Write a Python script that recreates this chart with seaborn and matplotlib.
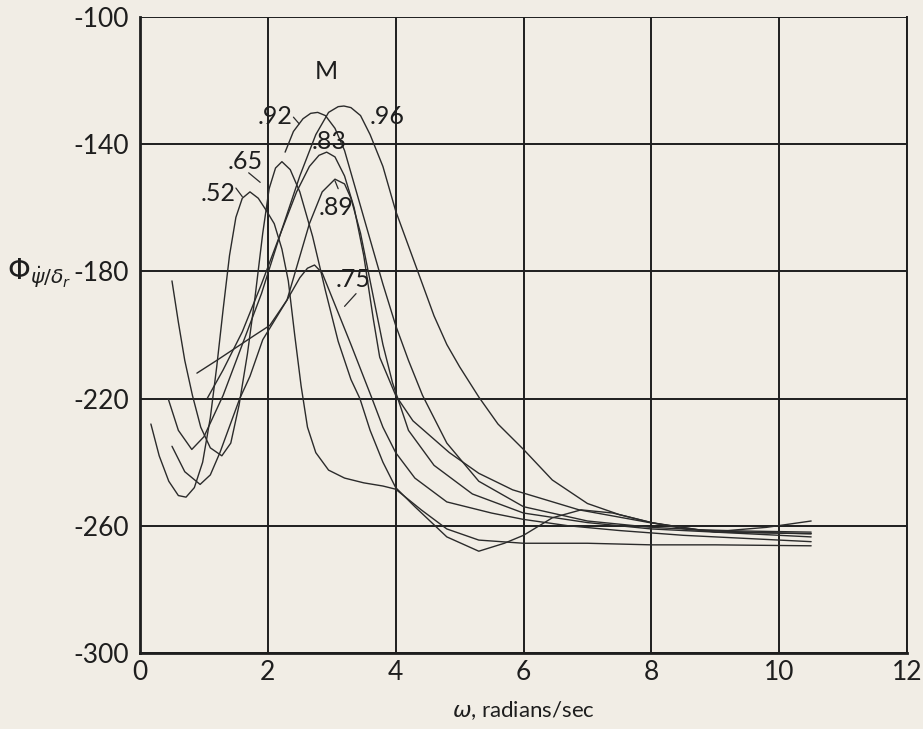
import matplotlib
matplotlib.use("Agg")
import matplotlib.pyplot as plt
import numpy as np
import pandas as pd
import seaborn as sns

# Phase angle of yaw-rate response to rudder, for several Mach numbers
mach_labels = [".52", ".65", ".75", ".83", ".89", ".92", ".96"]

omega_52 = [0.17, 0.3, 0.45, 0.6, 0.72, 0.85, 0.98, 1.1, 1.2, 1.3, 1.4, 1.5, 1.6, 1.72,
            1.85, 1.98, 2.1, 2.22, 2.32, 2.42, 2.52, 2.62, 2.75, 2.95, 3.2, 3.5, 3.8,
            4.0, 4.4, 4.8, 5.3, 6.0, 7.0, 8.0, 9.0, 10.5]
phase_52 = [-228, -238, -246, -250.5, -251, -248, -240, -226, -210, -192, -175, -163,
            -157, -155, -157, -161, -165, -173, -183, -200, -216, -229, -237, -242.5,
            -245, -246.5, -247.5, -248.5, -255, -261, -264.5, -265.5, -265.5, -266,
            -266, -266.3]

omega_65 = [0.5, 0.6, 0.7, 0.82, 0.95, 1.1, 1.28, 1.42, 1.55, 1.68, 1.8, 1.92, 2.02,
            2.12, 2.22, 2.35, 2.5, 2.7, 2.9, 3.1, 3.3, 3.44, 3.6, 3.8, 4.0, 4.3, 4.8,
            5.3, 5.7, 6.0, 6.45, 6.9, 7.4, 8.0, 8.8, 9.5, 10.5]
phase_65 = [-183, -196, -208, -219, -229, -235.5, -238, -234, -222, -206, -188, -168,
            -154, -147.5, -145.5, -148, -155, -169, -186, -202, -214, -220, -230, -240,
            -248, -254, -263.5, -268, -265.5, -263, -257.5, -255, -256, -259, -261.5,
            -262, -262.5]

omega_75 = [0.89, 1.2, 1.5, 1.8, 2.03, 2.3, 2.5, 2.62, 2.73, 2.85, 3.0, 3.3, 3.63,
            3.8, 4.0, 4.3, 4.8, 5.5, 6.0, 6.7, 7.5, 8.5, 9.5, 10.5]
phase_75 = [-212, -208, -204, -200, -197, -189, -182, -179, -178, -180.5, -188, -203,
            -220, -229, -237, -245, -252.5, -256, -258, -260, -261.5, -263, -264, -265]

omega_83 = [0.44, 0.6, 0.81, 1.0, 1.3, 1.6, 1.9, 2.2, 2.45, 2.65, 2.8, 2.92, 3.05, 3.2,
            3.35, 3.5, 3.65, 3.75, 4.0, 4.27, 4.84, 5.3, 5.83, 6.87, 7.97, 9.0, 10.5]
phase_83 = [-220, -230, -236, -232, -219, -203, -187, -168, -155, -147, -143.5, -142.5,
            -144, -150, -160, -175, -195, -207, -219, -227, -237, -243.5, -248.7, -255,
            -259, -262, -263.5]

omega_89 = [0.5, 0.7, 0.94, 1.1, 1.25, 1.56, 1.72, 1.92, 2.3, 2.65, 2.85, 3.05, 3.2,
            3.3, 3.45, 3.6, 3.8, 3.95, 4.2, 4.6, 5.2, 6.0, 7.0, 8.0, 9.0, 10.5]
phase_89 = [-235, -243, -247, -244, -237, -220, -213, -201.5, -189, -165, -155, -151,
            -152.5, -157, -168, -183, -203, -215, -230, -241, -250, -256, -259, -261,
            -262, -262.5]

omega_92 = [2.27, 2.4, 2.55, 2.67, 2.78, 2.9, 3.05, 3.2, 3.4, 3.6, 3.8, 4.0, 4.2, 4.42,
            4.8, 5.3, 6.0, 7.0, 8.0, 9.0, 10.5]
phase_92 = [-142.5, -136, -132, -130.3, -130, -131, -135, -142, -156, -170, -184, -197,
            -208, -219, -234, -246, -254, -258.5, -260.5, -261.5, -262]

omega_96 = [1.05, 1.3, 1.6, 1.9, 2.2, 2.5, 2.75, 2.95, 3.1, 3.19, 3.3, 3.45, 3.6, 3.8,
            4.0, 4.2, 4.4, 4.6, 4.8, 5.0, 5.3, 5.6, 6.0, 6.45, 7.0, 7.5, 8.0, 8.6, 9.2,
            9.8, 10.5]
phase_96 = [-220, -211, -199, -184, -168, -150, -137, -130, -128.2, -128, -128.5, -131,
            -137, -147, -161, -172, -183, -194, -203, -210, -219.5, -228, -236, -245.6,
            -253, -256.5, -259, -261.3, -261.5, -260.5, -258.5]

x_ticks = [0, 2, 4, 6, 8, 10, 12]
y_ticks = [-300, -260, -220, -180, -140, -100]

omegas = [omega_52, omega_65, omega_75, omega_83, omega_89, omega_92, omega_96]
phases = [phase_52, phase_65, phase_75, phase_83, phase_89, phase_92, phase_96]

frames = []
for lab, w, p in zip(mach_labels, omegas, phases):
    frames.append(pd.DataFrame({"omega": w, "phase": p, "M": lab}))
df = pd.concat(frames, ignore_index=True)

paper = "#f1ede5"
ink = "#2b2b2b"
dark = "#1e1e1e"

sns.set_theme(style="white")
plt.rcParams["font.family"] = ["Lato", "DejaVu Sans"]
plt.rcParams["text.color"] = dark

fig = plt.figure(figsize=(9.23, 7.29), dpi=100, facecolor=paper)
ax = fig.add_axes([0.1517, 0.1043, 0.8310, 0.8724])
ax.set_facecolor(paper)

sns.lineplot(data=df, x="omega", y="phase", hue="M", units="M", estimator=None,
             palette=[ink] * len(mach_labels), linewidth=1.0, legend=False,
             sort=False, ax=ax)

ax.set_xlim(0, 12)
ax.set_ylim(-300, -100)
ax.set_xticks(x_ticks)
ax.set_yticks(y_ticks)
ax.set_xticklabels([str(t) for t in x_ticks], fontsize=19)
ax.set_yticklabels([str(t) for t in y_ticks], fontsize=19)
ax.tick_params(axis="y", length=0, pad=8, labelcolor=dark)
ax.tick_params(axis="x", length=0, pad=5, labelcolor=dark)
ax.grid(True, color=dark, linewidth=1.4)
ax.set_axisbelow(True)

for side in ["left", "bottom"]:
    ax.spines[side].set_color(dark)
    ax.spines[side].set_linewidth(2.0)
ax.spines["right"].set_color(dark)
ax.spines["right"].set_linewidth(1.4)
ax.spines["top"].set_visible(False)

ax.set_xlabel(r"$\omega$, radians/sec", fontsize=16, color=dark, labelpad=10)
ax.set_ylabel("")
fig.text(0.008, 0.625, r"$\Phi_{\dot{\psi}/\delta_r}$", fontsize=21,
         color=dark, ha="left", va="center")

# Mach number labels with short leaders to their curves
ax.text(2.92, -117, "M", fontsize=18, ha="center", va="center", color=dark)
labels = [
    (".52", (1.22, -155.5), (1.50, -153.8), (1.60, -156.5)),
    (".65", (1.65, -145.3), (1.70, -149.0), (1.88, -152.0)),
    (".75", (3.33, -182.7), (3.38, -187.0), (3.20, -191.0)),
    (".83", (2.96, -139.0), None, None),
    (".89", (3.07, -160.0), (3.10, -154.0), (3.05, -151.5)),
    (".92", (2.11, -131.3), (2.40, -131.5), (2.49, -133.6)),
    (".96", (3.87, -131.3), None, None),
]
for text, pos, start, tip in labels:
    ax.text(pos[0], pos[1], text, fontsize=18, ha="center", va="center", color=dark)
    if start is not None:
        ax.annotate("", xy=tip, xytext=start,
                    arrowprops=dict(arrowstyle="-", color=ink, lw=0.9,
                                    shrinkA=0, shrinkB=0))

fig.savefig("out.png", dpi=100, facecolor=paper)
